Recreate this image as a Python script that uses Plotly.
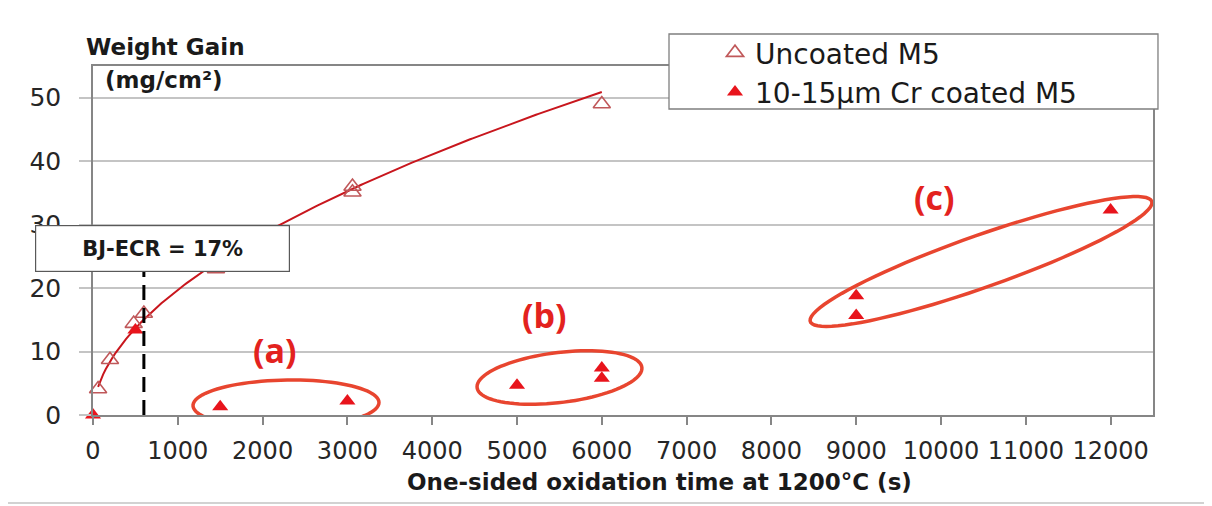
import numpy as np
import plotly.graph_objects as go

# Uncoated M5 (open triangles)
uncoated_time = [60, 200, 480, 600, 1450, 3060, 3060, 6000]
uncoated_gain = [4.1, 8.7, 14.4, 16.0, 23.0, 36.0, 35.1, 49.0]

# 10-15 um Cr coated M5 (filled triangles)
coated_time = [0, 500, 1500, 3000, 5000, 6000, 6000, 9000, 9000, 12000]
coated_gain = [0.0, 13.4, 1.3, 2.2, 4.7, 7.4, 5.8, 18.8, 15.7, 32.3]

BJ_ECR_TIME = 600
x_ticks = list(range(0, 12001, 1000))
y_ticks = [0, 10, 20, 30, 40, 50]

# plot area in pixels (for ellipse geometry)
PLOT_W, PLOT_H = 1060, 349
X_MAX, Y_MAX = 12500, 55
X_PX = PLOT_W / X_MAX
Y_PX = PLOT_H / Y_MAX

RED = "#e8141c"
OPEN = "#c0585a"
FIT = "#c8161d"
RING = "#e8452f"


def ellipse_path(cx, cy, a, b, angle):
    t = np.linspace(0, 2 * np.pi, 90)
    ang = np.radians(angle)
    u, v = a * np.cos(t), b * np.sin(t)
    dx = u * np.cos(ang) - v * np.sin(ang)
    dy = u * np.sin(ang) + v * np.cos(ang)
    xs = cx + dx / X_PX
    ys = cy + dy / Y_PX
    return "M " + " L ".join(f"{x:.2f},{y:.3f}" for x, y in zip(xs, ys)) + " Z"


# power-law trendline through the uncoated data
k, logc = np.polyfit(np.log(uncoated_time), np.log(uncoated_gain), 1)
fit_t = np.linspace(min(uncoated_time), max(uncoated_time), 200)
fit_w = np.exp(logc) * fit_t ** k

fig = go.Figure()
fig.add_trace(go.Scatter(
    x=fit_t, y=fit_w, mode="lines", line=dict(color=FIT, width=2),
    showlegend=False, hoverinfo="skip",
))
fig.add_trace(go.Scatter(
    x=uncoated_time, y=uncoated_gain, mode="markers", name="Uncoated M5",
    marker=dict(symbol="triangle-up-open", size=15, color=OPEN, line=dict(width=1.6)),
    cliponaxis=False,
))
fig.add_trace(go.Scatter(
    x=coated_time, y=coated_gain, mode="markers", name="10-15µm Cr coated M5",
    marker=dict(symbol="triangle-up", size=14, color=RED),
    cliponaxis=False,
))

shapes = [
    # outer frame
    dict(type="rect", xref="paper", yref="paper", x0=-0.0811, x1=1.06, y0=-0.2521, y1=1.1748,
         line=dict(color="#a6a6a6", width=1.2), layer="below"),
    # BJ-ECR marker line
    dict(type="line", xref="x", yref="y", x0=BJ_ECR_TIME, x1=BJ_ECR_TIME, y0=0, y1=24,
         line=dict(color="black", width=3, dash="15px,8px"), layer="above"),
    # legend box
    dict(type="rect", xref="paper", yref="paper", x0=0.5434, x1=1.0047, y0=0.8768, y1=1.0917,
         fillcolor="white", line=dict(color="#7f7f7f", width=1.3), layer="above"),
]
for cx, cy, a, b, ang in [(2276, 1.73, 93, 24, 1), (5501, 5.91, 83, 25, 7), (10472, 24.19, 181, 26, 19.4)]:
    shapes.append(dict(type="path", xref="x", yref="y", path=ellipse_path(cx, cy, a, b, ang),
                       line=dict(color=RING, width=3.5), layer="above"))

annotations = [
    dict(text="<b>Weight Gain</b>", xref="paper", yref="paper", x=-0.0085, y=1.054,
         xanchor="left", yanchor="middle", showarrow=False,
         font=dict(family="DejaVu Sans", size=23, color="#1a1a1a")),
    dict(text="<b>(mg/cm²)</b>", xref="paper", yref="paper", x=0.0094, y=0.96,
         xanchor="left", yanchor="middle", showarrow=False,
         font=dict(family="DejaVu Sans", size=23, color="#1a1a1a")),
    dict(text="<b>One-sided oxidation time at 1200°C (s)</b>", xref="paper", yref="paper",
         x=0.5344, y=-0.192, xanchor="center", yanchor="middle", showarrow=False,
         font=dict(family="DejaVu Sans", size=23, color="#1a1a1a")),
    dict(text="<b>BJ-ECR = 17%</b>", xref="paper", yref="paper", x=0.0656, y=0.477,
         xanchor="center", yanchor="middle", showarrow=False, width=253, height=45,
         bgcolor="white", bordercolor="#595959", borderwidth=1.2, borderpad=0,
         font=dict(family="DejaVu Sans", size=21, color="#1a1a1a")),
]
for label, lx, ly in [("(a)", 2146, 10.24), ("(b)", 5330, 15.76), ("(c)", 9923, 34.28)]:
    annotations.append(dict(text=f"<b>{label}</b>", x=lx, y=ly, xref="x", yref="y",
                            showarrow=False, font=dict(family="Open Sans", size=34, color="#e3221e")))

fig.update_layout(
    width=1204, height=498,
    margin=dict(l=85, r=59, t=58, b=91),
    paper_bgcolor="white", plot_bgcolor="white",
    font=dict(family="DejaVu Sans", color="#262626"),
    shapes=shapes, annotations=annotations,
    legend=dict(x=0.5868, y=1.109, xanchor="left", yanchor="top",
                bgcolor="rgba(0,0,0,0)", borderwidth=0,
                font=dict(family="DejaVu Sans", size=28, color="#1a1a1a")),
    xaxis=dict(range=[0, X_MAX], tickvals=x_ticks, tickformat="d", showgrid=False, zeroline=False,
               showline=True, linecolor="#868686", linewidth=1.5, mirror=True,
               ticks="outside", ticklen=8, tickcolor="#868686", tickwidth=1.5,
               ticklabelstandoff=5, tickfont=dict(size=24, color="#262626")),
    yaxis=dict(range=[0, Y_MAX], tickvals=y_ticks, showgrid=True, gridcolor="#c4c4c4",
               gridwidth=1.5, zeroline=False,
               showline=True, linecolor="#868686", linewidth=1.5, mirror=True,
               ticks="outside", ticklen=12, tickcolor="#c4c4c4", tickwidth=1.5,
               ticklabelstandoff=13, tickfont=dict(size=25, color="#262626")),
)

fig.write_html("out.html")
